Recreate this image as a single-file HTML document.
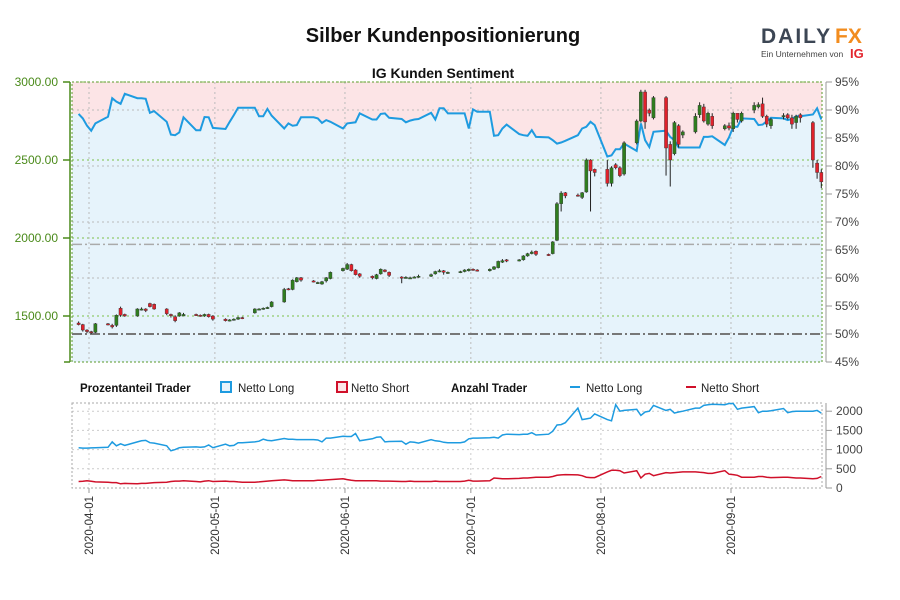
<!DOCTYPE html>
<html><head><meta charset="utf-8"><style>
body{margin:0;background:#fff;font-family:"Liberation Sans",sans-serif;}
#wrap{position:relative;width:900px;height:600px;overflow:hidden;background:#fff;}
svg text{font-family:"Liberation Sans",sans-serif;}
</style></head><body>
<div id="wrap">
<svg id="chart" width="900" height="600" viewBox="0 0 900 600">
<text x="443" y="42" text-anchor="middle" font-size="20" font-weight="bold" fill="#111">Silber Kundenpositionierung</text>
<text x="443" y="78" text-anchor="middle" font-size="14" font-weight="bold" fill="#111">IG Kunden Sentiment</text>
<g>
<text x="761" y="43" font-size="21" font-weight="bold" fill="#3c4654" letter-spacing="2">DAILY</text>
<text x="835" y="43" font-size="21" font-weight="bold" fill="#f28c1e">FX</text>
<text x="761" y="57" font-size="8.5" fill="#444">Ein Unternehmen von</text>
<text x="850" y="58" font-size="13" font-weight="bold" fill="#e3262e">IG</text>
</g>
<g id="main"></g>
<g id="legend">
<text x="80" y="392" font-size="11.5" font-weight="bold" fill="#111">Prozentanteil Trader</text>
<rect x="221" y="382" width="10" height="10" fill="#e6f3fb" stroke="#1e9be0" stroke-width="2"/>
<text x="238" y="392" font-size="11.5" fill="#222">Netto Long</text>
<rect x="337" y="382" width="10" height="10" fill="#fce4e6" stroke="#d0102a" stroke-width="2"/>
<text x="351" y="392" font-size="11.5" fill="#222">Netto Short</text>
<text x="451" y="392" font-size="11.5" font-weight="bold" fill="#111">Anzahl Trader</text>
<line x1="570" y1="387" x2="580" y2="387" stroke="#1e9be0" stroke-width="2"/>
<text x="586" y="392" font-size="11.5" fill="#222">Netto Long</text>
<line x1="686" y1="387" x2="696" y2="387" stroke="#d0102a" stroke-width="2"/>
<text x="701" y="392" font-size="11.5" fill="#222">Netto Short</text>
</g>
<g id="lower"></g>
</svg>
</div>
<script>
// ---- data ----
const startDate = "2020-03-30";
const endDate = "2020-09-23";
const monthTicks = ["2020-04-01","2020-05-01","2020-06-01","2020-07-01","2020-08-01","2020-09-01"];
const priceTicks = [3000,2500,2000,1500];
const priceTickLabels = ["3000.00","2500.00","2000.00","1500.00"];
const pctTicks = [95,90,85,80,75,70,65,60,55,50,45];
const countTicks = [2000,1500,1000,500,0];
const openP = [1455,1445,1410,1400,1395, 1450,1440,1440,1550,1510, 1500,1540,1545,1580,1575, 1545,1510,1495,1500,1500, 1510,1505,1500,1510,1500, 1480,1470,1475,1480,1490, 1520,1545,1545,1550,1560, 1590,1675,1670,1720,1745, 1725,1712,1705,1725,1740, 1790,1800,1830,1795,1770, 1755,1740,1770,1795,1780, 1750,1745,1745,1748,1750, 1755,1770,1790,1790,1775, 1780,1785,1790,1800,1795, 1790,1800,1810,1845,1860, 1855,1860,1885,1900,1915, 1895,1900,1985,2220,2290, 2275,2260,2295,2500,2440, 2440,2350,2470,2450,2410, 2610,2750,2936,2820,2770, 2900,2600,2540,2720,2660, 2680,2790,2840,2730,2780, 2700,2720,2700,2800,2750, 2820,2840,2860,2780,2720, 2780,2790,2770,2740,2790, 2740,2480,2420];
const closeP = [1445,1410,1400,1395,1450, 1445,1430,1505,1505,1500, 1545,1545,1535,1560,1545, 1515,1505,1470,1520,1510, 1505,1500,1510,1495,1480, 1470,1475,1480,1490,1485, 1545,1545,1550,1555,1590, 1670,1670,1730,1745,1730, 1720,1715,1720,1745,1780, 1805,1830,1790,1765,1755, 1745,1765,1800,1785,1760, 1745,1748,1745,1750,1755, 1765,1785,1790,1780,1780, 1785,1795,1800,1795,1790, 1800,1815,1850,1855,1855, 1860,1885,1900,1910,1895, 1890,1975,2220,2288,2270, 2270,2290,2500,2430,2420, 2350,2450,2450,2400,2610, 2750,2936,2744,2800,2900, 2577,2500,2740,2600,2680, 2780,2850,2750,2800,2720, 2720,2705,2800,2760,2800, 2850,2855,2780,2730,2760, 2785,2770,2730,2780,2770, 2500,2420,2360];
const highP = [1465,1450,1415,1405,1455, 1455,1450,1510,1560,1515, 1550,1555,1550,1585,1580, 1550,1515,1505,1525,1520, 1515,1510,1515,1515,1505, 1485,1480,1485,1495,1495, 1550,1550,1555,1560,1595, 1680,1680,1735,1750,1750, 1730,1720,1725,1750,1785, 1810,1840,1835,1800,1775, 1760,1770,1805,1800,1785, 1755,1755,1752,1755,1765, 1772,1790,1800,1795,1785, 1790,1800,1805,1805,1800, 1805,1820,1855,1865,1865, 1865,1890,1905,1920,1920, 1900,1980,2230,2300,2295, 2285,2295,2510,2505,2445, 2500,2460,2480,2460,2620, 2760,2950,2950,2830,2910, 2910,2620,2750,2730,2690, 2800,2870,2860,2810,2800, 2730,2740,2810,2780,2810, 2870,2870,2900,2790,2770, 2800,2800,2790,2790,2800, 2750,2500,2440];
const lowP = [1440,1400,1390,1385,1390, 1440,1420,1430,1495,1495, 1495,1535,1525,1555,1540, 1505,1490,1460,1495,1500, 1500,1495,1495,1490,1470, 1465,1465,1470,1475,1480, 1515,1540,1540,1545,1555, 1585,1665,1665,1715,1720, 1715,1705,1700,1715,1735, 1785,1795,1785,1760,1745, 1735,1735,1765,1780,1750, 1710,1740,1738,1742,1745, 1750,1765,1780,1765,1770, 1775,1780,1785,1790,1785, 1785,1795,1805,1840,1845, 1850,1855,1880,1895,1885, 1885,1895,1980,2170,2255, 2265,2250,2290,2170,2395, 2330,2330,2440,2390,2400, 2600,2740,2700,2780,2760, 2400,2330,2530,2580,2640, 2670,2770,2740,2720,2700, 2690,2690,2680,2740,2740, 2800,2830,2770,2710,2700, 2760,2760,2700,2700,2740, 2450,2380,2320];
const longPct = [89.3,88.5,87.2,86.3,87.6, 88.8,92.1,91.5,91.1,92.9, 92.1,92.1,92.0,89.5,89.8, 87.9,85.6,85.5,86.0,88.7, 86.4,86.4,88.75,88.7,86.8, 86.6,87.9,89.1,90.4,90.4, 90.4,88.9,88.9,90.2,89.0, 86.7,87.6,87.2,87.3,88.7, 88.7,88.5,87.7,88.2,87.9, 86.7,87.6,87.7,87.8,89.4, 88.3,88.3,89.3,89.4,88.6, 88.4,87.8,88.1,88.3,88.4, 89.5,88.3,90.3,90.3,89.4, 89.4,89.4,86.7,90.1,89.7, 89.7,85.4,85.5,86.7,87.4, 85.7,85.5,85.4,86.4,85.2, 85.1,84.6,84.0,84.2,84.5, 85.5,86.7,87.0,87.9,87.3, 81.7,81.9,83.0,83.0,84.0, 82.7,87.6,84.6,83.4,86.1, 86.3,85.2,84.6,83.3,83.3, 83.3,83.3,85.2,85.2,85.3, 83.75,85.1,87.0,87.0,88.5, 88.4,87.3,87.4,88.0,88.6, 88.5,88.2,88.4,88.9,88.9, 89.2,90.3,88.3];
const longCount = [1050,1040,1040,1045,1050, 1060,1200,1100,1150,1110, 1200,1230,1240,1180,1170, 1100,970,1000,1050,1060, 1070,1060,1070,1120,1050, 1140,1100,1110,1180,1180, 1200,1220,1270,1240,1230, 1290,1270,1270,1260,1260, 1260,1250,1200,1300,1300, 1350,1340,1340,1420,1230, 1280,1320,1330,1200,1210, 1220,1140,1200,1190,1170, 1260,1230,1220,1190,1180, 1180,1200,1280,1300,1300, 1310,1320,1300,1380,1400, 1390,1400,1400,1440,1380, 1400,1480,1640,1650,1700, 2080,1780,1800,1820,1930, 1780,1750,2170,2000,2020, 2050,1890,1980,2000,2150, 2020,2050,1950,1980,2000, 2080,2080,2150,2170,2180, 2170,2200,2200,2050,2080, 2120,1960,2000,2000,2010, 2070,1960,1990,2000,2000, 2000,2020,1950];
const shortCount = [170,175,190,175,160, 150,140,140,110,120, 110,120,120,130,140, 150,170,180,180,190, 170,160,180,190,170, 180,170,170,160,150, 150,160,170,180,190, 210,200,190,190,190, 190,200,200,210,220, 240,220,200,190,190, 190,190,180,180,180, 170,170,180,170,170, 170,180,170,170,170, 170,180,200,180,180, 190,260,250,240,240, 250,260,260,270,280, 280,300,330,340,350, 340,320,280,270,270, 420,460,460,450,390, 450,260,360,380,320, 400,390,400,410,420, 420,410,400,380,380, 450,360,350,330,280, 280,300,300,280,270, 280,280,270,260,260, 240,250,300];
const refLevels = [50, 66];

// ---- scales ----
const NS="http://www.w3.org/2000/svg";
const DAY=86400000;
const t0=Date.parse("2020-04-01T00:00:00Z");
function xScale(ds){return 89+(Date.parse(ds+"T00:00:00Z")-t0)/DAY*4.196;}
const SERIES_SHIFT=-2;
function xSeries(ds){return xScale(ds)+SERIES_SHIFT;}
function yPrice(p){return 82+(3000-p)/500*78;}
function yPct(v){return 82+(95-v)*5.6;}
function yCount(c){return 488-c*0.0384;}
const PL=72, PR=822;
function el(tag,attrs,parent){const e=document.createElementNS(NS,tag);for(const k in attrs)e.setAttribute(k,attrs[k]);parent.appendChild(e);return e;}
const days=[];
for(let t=Date.parse(startDate+"T00:00:00Z");t<=Date.parse(endDate+"T00:00:00Z");t+=DAY){const d=new Date(t).getUTCDay();if(d!==0&&d!==6)days.push(new Date(t).toISOString().slice(0,10));}

const mainG=document.getElementById('main');
const xs=days.map(xSeries);
const nPct=Math.min(longPct.length,xs.length);
let shortPath="M"+PL+",82 L"+PR+",82 L"+PR+","+yPct(longPct[nPct-1]);
for(let i=nPct-1;i>=0;i--){shortPath+=" L"+xs[i]+","+yPct(longPct[i]);}
shortPath+=" L"+PL+","+yPct(longPct[0])+" Z";
const bg=el('rect',{x:PL,y:82,width:PR-PL,height:280,fill:'#e6f3fb'},mainG);


const pink=el('path',{d:shortPath,fill:'#fce4e6'},mainG);


[90,80,70,60].forEach(v=>{const g=el('line',{x1:PL,x2:PR,y1:yPct(v),y2:yPct(v),stroke:'#bbb','stroke-dasharray':'2,3'},mainG);});
priceTicks.forEach(p=>{const g=el('line',{x1:PL,x2:PR,y1:yPrice(p),y2:yPrice(p),stroke:'#7cc24a','stroke-dasharray':'2,3'},mainG);});
monthTicks.forEach(m=>{const g=el('line',{x1:xScale(m),x2:xScale(m),y1:82,y2:362,stroke:'#bbb','stroke-dasharray':'2,3'},mainG);});
const bx=el('rect',{x:PL,y:82,width:PR-PL,height:280,fill:'none',stroke:'#5a9a2a','stroke-dasharray':'2,2'},mainG);


const r1=el('line',{x1:PL,x2:PR,y1:yPct(refLevels[0]),y2:yPct(refLevels[0]),stroke:'#777','stroke-width':2,'stroke-dasharray':'10,3,2,3'},mainG);


const r2=el('line',{x1:PL,x2:PR,y1:yPct(refLevels[1]),y2:yPct(refLevels[1]),stroke:'#aaa','stroke-width':1.5,'stroke-dasharray':'10,3,2,3'},mainG);


const pctD=longPct.slice(0,nPct).map((v,i)=>(i?"L":"M")+xs[i].toFixed(1)+","+yPct(v).toFixed(1)).join(" ");
const pl=el('path',{d:pctD,fill:'none',stroke:'#1e9be0','stroke-width':2},mainG);


const nC=Math.min(xs.length,openP.length,closeP.length,highP.length,lowP.length);
for(let i=0;i<nC;i++){
  const x=xs[i];const up=closeP[i]>=openP[i];
  const g=el('g',{},mainG);
  
  
  el('line',{x1:x,x2:x,y1:yPrice(highP[i]),y2:yPrice(lowP[i]),stroke:'#222','stroke-width':1},g);
  const y1=yPrice(Math.max(openP[i],closeP[i])),y2=yPrice(Math.min(openP[i],closeP[i]));
  el('rect',{x:x-1.6,y:y1,width:3.2,height:Math.max(1.2,y2-y1),fill:up?'#2f7d1f':'#e0212b',stroke:'#333','stroke-width':0.4},g);
}
const la=el('line',{x1:70,x2:70,y1:82,y2:362,stroke:'#4a8a1a','stroke-width':1.5},mainG);


el('line',{x1:64,x2:70,y1:362,y2:362,stroke:'#4a8a1a','stroke-width':1.5},mainG);
priceTicks.forEach((p,i)=>{
  el('line',{x1:63,x2:70,y1:yPrice(p),y2:yPrice(p),stroke:'#4a8a1a','stroke-width':1.5},mainG);
  const t=el('text',{x:58,y:yPrice(p)+4,'text-anchor':'end','font-size':12,fill:'#4a8a1a'},mainG);
  t.textContent=priceTickLabels[i];
  
  
});
const ra=el('line',{x1:826,x2:826,y1:82,y2:362,stroke:'#999','stroke-width':1},mainG);


pctTicks.forEach(v=>{
  el('line',{x1:826,x2:832,y1:yPct(v),y2:yPct(v),stroke:'#999'},mainG);
  const t=el('text',{x:835,y:yPct(v)+4,'font-size':12,fill:'#444'},mainG);
  t.textContent=v+"%";
  
  
});
const low=document.getElementById('lower');
countTicks.slice(0,4).forEach(c=>{const g=el('line',{x1:PL,x2:PR,y1:yCount(c),y2:yCount(c),stroke:'#ccc','stroke-dasharray':'2,3'},low);});
monthTicks.forEach(m=>{const g=el('line',{x1:xScale(m),x2:xScale(m),y1:403,y2:492,stroke:'#ccc','stroke-dasharray':'2,3'},low);});
const lb=el('rect',{x:PL,y:403,width:PR-PL,height:85,fill:'none',stroke:'#aaa','stroke-dasharray':'2,2'},low);


const nL=Math.min(xs.length,longCount.length), nS=Math.min(xs.length,shortCount.length);
const lc=el('path',{d:longCount.slice(0,nL).map((c,i)=>(i?"L":"M")+xs[i].toFixed(1)+","+yCount(c).toFixed(1)).join(" "),fill:'none',stroke:'#1e9be0','stroke-width':1.5},low);


const sc=el('path',{d:shortCount.slice(0,nS).map((c,i)=>(i?"L":"M")+xs[i].toFixed(1)+","+yCount(c).toFixed(1)).join(" "),fill:'none',stroke:'#d0102a','stroke-width':1.5},low);


const ca=el('line',{x1:826,x2:826,y1:403,y2:488,stroke:'#999'},low);


countTicks.forEach(c=>{
  el('line',{x1:826,x2:832,y1:yCount(c),y2:yCount(c),stroke:'#999'},low);
  const t=el('text',{x:836,y:yCount(c)+4,'font-size':12,fill:'#444'},low);
  t.textContent=c;
  
  
});
monthTicks.forEach(m=>{
  const x=xScale(m);
  el('line',{x1:x,x2:x,y1:488,y2:493,stroke:'#999'},low);
  const t=el('text',{x:0,y:0,'font-size':11.5,fill:'#333','text-anchor':'end',transform:`translate(${x+4},496) rotate(-90)`},low);
  t.textContent=m;
  
  
});
</script>
</body></html>
